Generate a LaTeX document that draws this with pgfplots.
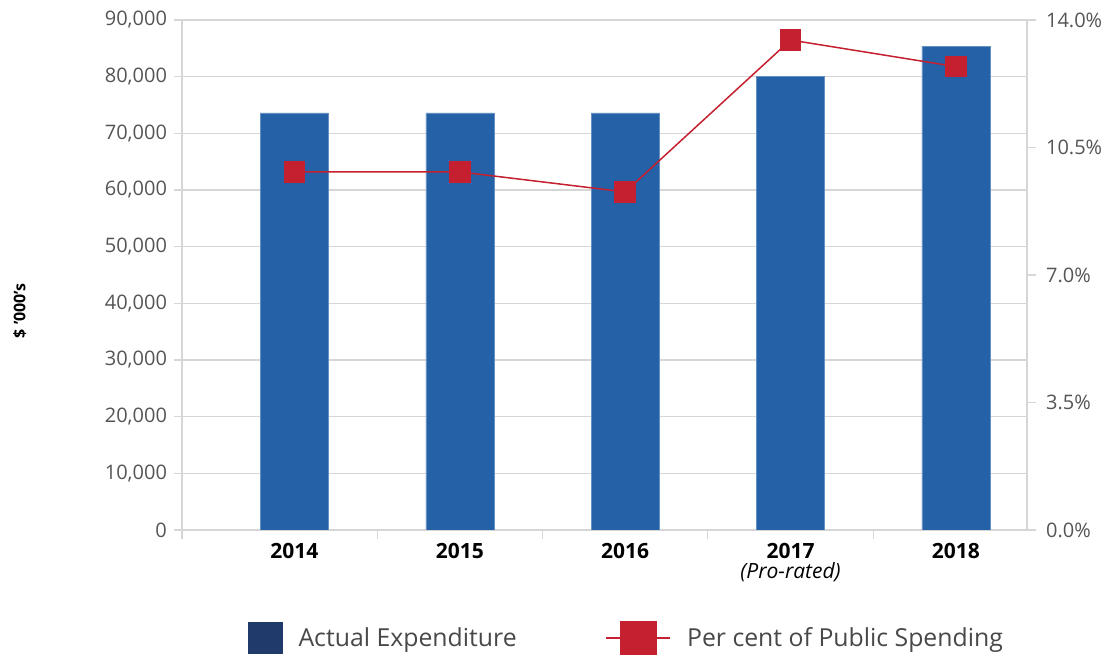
\documentclass[border=0pt]{standalone}
\usepackage{pgfplots}
\pgfplotsset{compat=1.18}
\usepackage{fontspec}
\setmainfont{Open Sans}
\definecolor{barblue}{HTML}{2461A7}
\definecolor{navy}{HTML}{1F3A6B}
\definecolor{linered}{HTML}{C4202F}
\definecolor{gridgray}{HTML}{D6D6D6}
\definecolor{labgray}{HTML}{555555}
\begin{document}
\begin{tikzpicture}
\useasboundingbox (-91pt,-63pt) rectangle (467.5pt,265pt);
\begin{axis}[
  at={(0,0)}, anchor=south west,
  scale only axis, width=422.5pt, height=255pt,
  xmin=-0.68, xmax=4.43, ymin=0, ymax=90000,
  axis y line*=left, axis x line*=bottom,
  axis line style={draw=gridgray, line width=0.8pt},
  ytick={0,10000,...,90000}, scaled y ticks=false,
  ymajorgrids, grid style={draw=gridgray, line width=0.6pt},
  /pgf/number format/.cd, 1000 sep={,}, assume math mode=true, /pgfplots/.cd,
  yticklabel style={font=\fontsize{10}{12}\selectfont, color=labgray},
  tick align=outside, major tick length=4pt,
  tick style={draw=gridgray, line width=0.6pt},
  xtick={0,1,2,3,4}, xtick style={draw=none},
  xticklabels={2014,2015,2016,{2017\\[-2pt]\textit{\mdseries (Pro-rated)}},2018},
  xticklabel style={font=\fontsize{10.5}{12}\selectfont\bfseries, color=black, align=center, anchor=north, yshift=1pt},
  ylabel={\$ '000's},
  every axis y label/.style={at={(rel axis cs:-0.192,0.43)}, rotate=90, anchor=center, font=\fontsize{8}{10}\selectfont\bfseries},
]
\addplot[ybar, bar width=34pt, fill=barblue, draw=barblue!70!white, line width=0.3pt]
  coordinates {(0,73600) (1,73600) (2,73600) (3,80000) (4,85400)};
\end{axis}
\begin{axis}[
  at={(0,0)}, anchor=south west,
  scale only axis, width=422.5pt, height=255pt,
  xmin=-0.68, xmax=4.43, ymin=0, ymax=14,
  axis y line*=right, axis x line*=bottom,
  x axis line style={draw=none},
  y axis line style={draw=gridgray, line width=0.8pt},
  xtick={-0.68,0.5,1.5,2.5,3.5}, xticklabels={},
  ytick={0,3.5,7,10.5,14},
  yticklabel={\pgfmathprintnumber[fixed,fixed zerofill,precision=1,assume math mode=true]{\tick}\%},
  yticklabel style={font=\fontsize{10}{12}\selectfont, color=labgray, xshift=1.5pt},
  tick align=outside, major tick length=4.5pt,
  tick style={draw=gridgray, line width=0.6pt},
  legend style={at={(0.527,-0.212)}, anchor=center, draw=none, fill=none,
    legend columns=2, font=\fontsize{12.4}{14}\selectfont, text=labgray!85!black,
    /tikz/every even column/.append style={column sep=42.5pt},
    /tikz/every odd column/.append style={column sep=6pt}},
]
\addlegendimage{legend image code/.code={\fill[navy] (0pt,-7.75pt) rectangle (17pt,7.75pt);}}
\addlegendentry{Actual Expenditure}
\addplot[color=linered, line width=0.75pt, mark=square*, mark size=5pt,
  mark options={fill=linered, draw=linered},
  legend image code/.code={\draw[linered, line width=0.75pt] (0pt,0pt) -- (32pt,0pt); \fill[linered] (7pt,-8pt) rectangle (25pt,8pt);}]
  coordinates {(0,9.83) (1,9.83) (2,9.28) (3,13.45) (4,12.72)};
\addlegendentry{Per cent of Public Spending}
\end{axis}
\end{tikzpicture}
\end{document}
